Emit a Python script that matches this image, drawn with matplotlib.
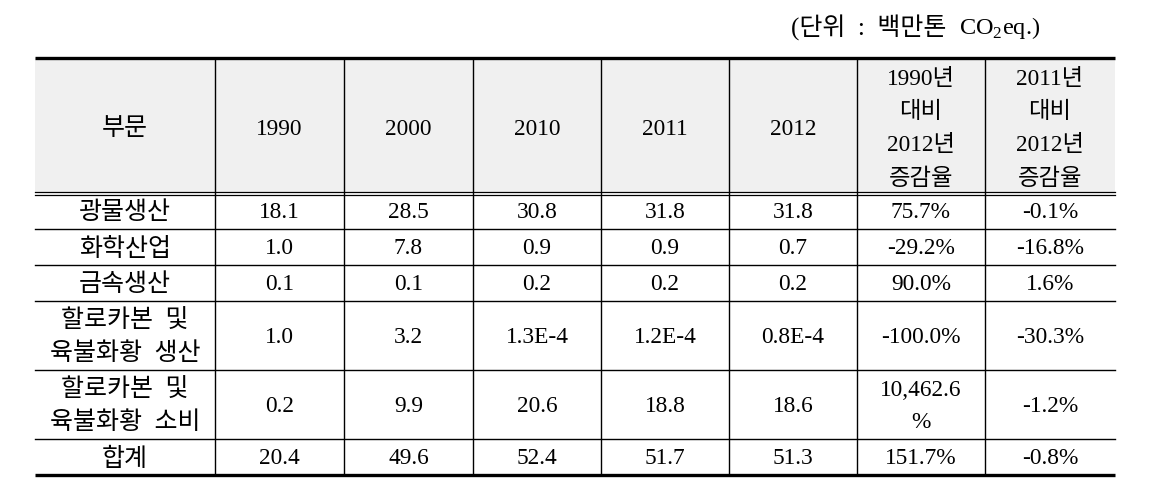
import matplotlib.pyplot as plt

plt.rcParams["font.family"] = ["Liberation Serif", "Noto Sans CJK KR", "DejaVu Sans"]
plt.rcParams["mathtext.fontset"] = "custom"
plt.rcParams["mathtext.rm"] = "Liberation Serif"

unit_kr = "(단위  :  백만톤  "
unit_en = "CO$_\\mathregular{2}$eq.)"
header = ["부문", "1990", "2000", "2010", "2011", "2012",
          "1990년\n대비\n2012년\n증감율", "2011년\n대비\n2012년\n증감율"]
sectors = ["광물생산", "화학산업", "금속생산",
           "할로카본  및\n육불화황  생산", "할로카본  및\n육불화황  소비", "합계"]
v1990 = ["18.1", "1.0", "0.1", "1.0", "0.2", "20.4"]
v2000 = ["28.5", "7.8", "0.1", "3.2", "9.9", "49.6"]
v2010 = ["30.8", "0.9", "0.2", "1.3E-4", "20.6", "52.4"]
v2011 = ["31.8", "0.9", "0.2", "1.2E-4", "18.8", "51.7"]
v2012 = ["31.8", "0.7", "0.2", "0.8E-4", "18.6", "51.3"]
rate90 = ["75.7%", "-29.2%", "90.0%", "-100.0%", "10,462.6\n%", "151.7%"]
rate11 = ["-0.1%", "-16.8%", "1.6%", "-30.3%", "-1.2%", "-0.8%"]

# layout in pixels
W, H = 1159, 485
col_x = [35, 215, 344, 473, 601, 729, 857, 985, 1115]
row_y = [59, 194, 230, 266, 302, 371, 440, 476]
fs = 16.8     # numbers / mixed text
fs_kr = 18.0  # pure hangul cells

fig = plt.figure(figsize=(W / 100, H / 100), dpi=100)
ax = fig.add_axes([0, 0, 1, 1])
ax.set_xlim(0, W)
ax.set_ylim(H, 0)
ax.axis("off")

# header shading
ax.fill_between([col_x[0], col_x[-1]], row_y[0], row_y[1], color="#f0f0f0", lw=0)

# horizontal lines
ax.plot([col_x[0], col_x[-1]], [row_y[0]] * 2, color="black", lw=2.4, solid_capstyle="butt")
ax.plot([col_x[0], col_x[-1]], [row_y[-1]] * 2, color="black", lw=2.4, solid_capstyle="butt")
ax.plot([col_x[0], col_x[-1]], [row_y[1] - 1] * 2, color="black", lw=0.9)
ax.plot([col_x[0], col_x[-1]], [row_y[1] + 1.5] * 2, color="black", lw=0.9)
for y in row_y[2:-1]:
    ax.plot([col_x[0], col_x[-1]], [y, y], color="black", lw=1.0)

# vertical lines (no outer borders)
for x in col_x[1:-1]:
    ax.plot([x, x], [row_y[0], row_y[-1]], color="black", lw=1.0)

# header text
for j, txt in enumerate(header):
    cx = (col_x[j] + col_x[j + 1]) / 2
    cy = (row_y[0] + row_y[1]) / 2 + 3
    size = fs_kr if j == 0 else fs
    ax.text(cx, cy, txt, ha="center", va="center", fontsize=size, linespacing=1.75)

# body
columns = [sectors, v1990, v2000, v2010, v2011, v2012, rate90, rate11]
for j, col in enumerate(columns):
    cx = (col_x[j] + col_x[j + 1]) / 2
    for i, txt in enumerate(col):
        cy = (row_y[i + 1] + row_y[i + 2]) / 2 + 1
        if j == 0:
            ax.text(cx, cy, txt, ha="center", va="center", fontsize=fs_kr, linespacing=1.5)
        else:
            ax.text(cx, cy, txt, ha="center", va="center", fontsize=fs, linespacing=1.7)

# unit label: hangul part placed left of the CO2 part
t_en = ax.text(1040, 28, unit_en, ha="right", va="center", fontsize=17.5)
fig.canvas.draw()
bb = t_en.get_window_extent()
x_left = ax.transData.inverted().transform((bb.x0, bb.y0))[0]
ax.text(x_left, 28, unit_kr, ha="right", va="center", fontsize=fs_kr)

fig.savefig("out.png", dpi=100)
